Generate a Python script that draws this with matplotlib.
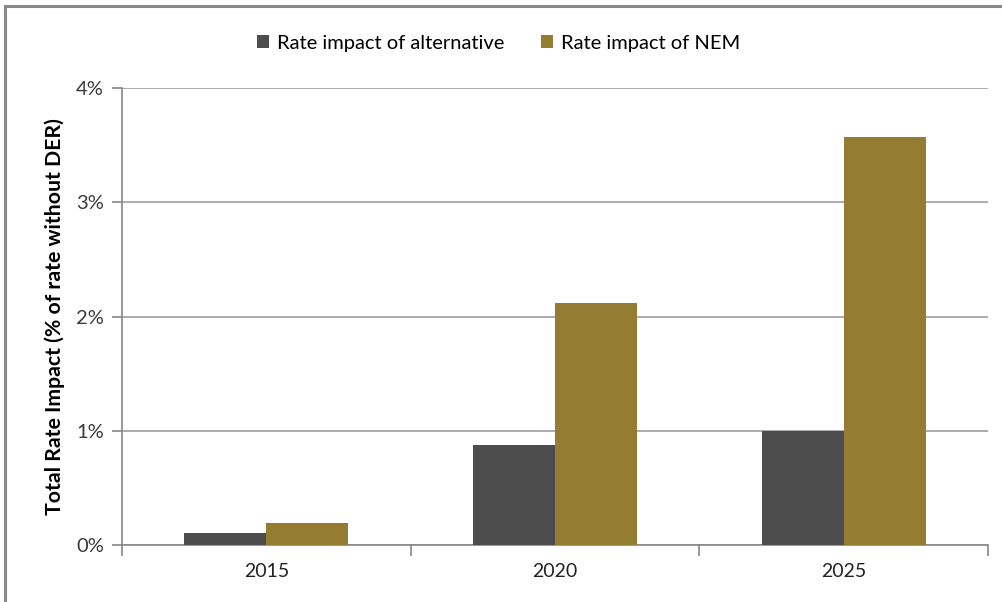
import matplotlib.pyplot as plt
import numpy as np
from matplotlib.lines import Line2D
from matplotlib.ticker import FuncFormatter

plt.rcParams['font.family'] = ['Lato', 'DejaVu Sans']

years = ["2015", "2020", "2025"]
alt_impact = [0.105, 0.875, 1.0]
nem_impact = [0.19, 2.115, 3.57]

c_alt = "#4d4d4d"
c_nem = "#947c32"
grid_c = "#a6a6a6"

fig = plt.figure(figsize=(10.03, 6.02), dpi=100)
ax = fig.add_axes([0.1216, 0.0947, 0.8634, 0.7591])

x = np.arange(len(years))
w = 0.284
ax.bar(x - w/2, alt_impact, w, color=c_alt, label="Rate impact of alternative", zorder=3)
ax.bar(x + w/2, nem_impact, w, color=c_nem, label="Rate impact of NEM", zorder=3)

ax.set_xlim(-0.5, 2.5)
ax.set_ylim(0, 4)
ax.set_yticks([0, 1, 2, 3, 4])
ax.yaxis.set_major_formatter(FuncFormatter(lambda v, p: f"{v:.0f}%"))
ax.grid(axis="y", color=grid_c, lw=1.3, zorder=0)

# category ticks sit between the groups
ax.set_xticks(x)
ax.set_xticklabels(years)
ax.set_xticks([-0.5, 0.5, 1.5, 2.5], minor=True)
ax.tick_params(axis="x", which="major", length=0, pad=13, labelsize=14, labelcolor="#222222")
ax.tick_params(axis="x", which="minor", length=8, color="#888888", width=1.2)
ax.tick_params(axis="y", length=7, color="#888888", width=1.2, pad=6,
               labelsize=14.5, labelcolor="#3a3a3a")

for s in ["top", "right"]:
    ax.spines[s].set_visible(False)
for s in ["left", "bottom"]:
    ax.spines[s].set_color("#888888")
    ax.spines[s].set_linewidth(1.2)

ax.set_ylabel("Total Rate Impact (% of rate without DER)", fontsize=15.3,
              fontweight="bold", labelpad=8)

fig.legend(*ax.get_legend_handles_labels(), loc="center", bbox_to_anchor=(0.497, 0.928),
           ncol=2, frameon=False, fontsize=14.5, handlelength=0.6, handleheight=0.6,
           handletextpad=0.4, columnspacing=1.8)

# outer chart frame (top and left edges)
fig.add_artist(Line2D([0.0045, 1.0], [0.9895, 0.9895], color="#888888", lw=2.2,
                      transform=fig.transFigure))
fig.add_artist(Line2D([0.0045, 0.0045], [0.0, 0.9895], color="#888888", lw=2.2,
                      transform=fig.transFigure))

fig.savefig("out.png", dpi=100)
